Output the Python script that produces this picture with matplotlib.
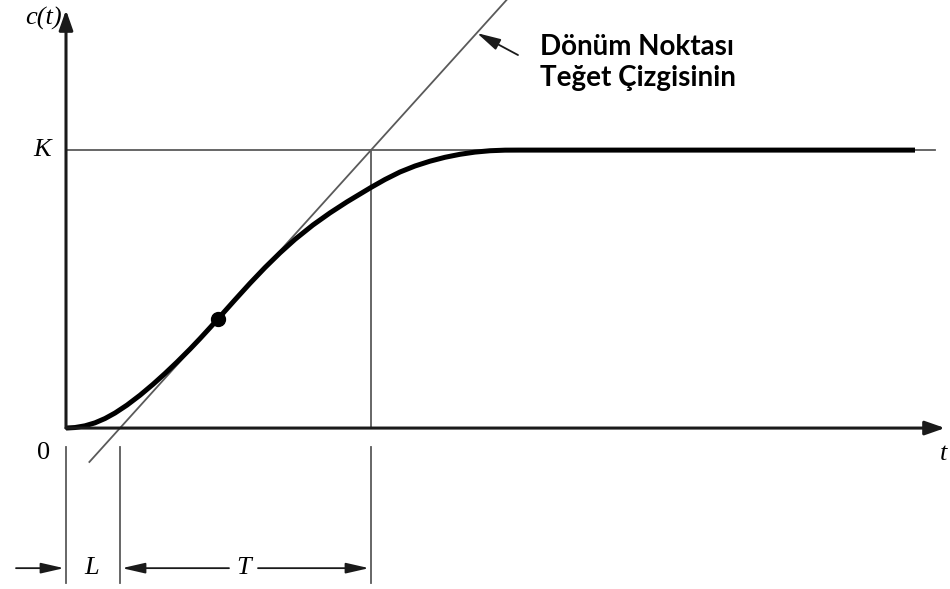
import matplotlib
matplotlib.use('Agg')
from matplotlib import pyplot as plt

# step response c(t), normalised so that the final value K = 1
K = 1.0
L = 0.54          # dead time
T = 2.51          # time constant
t_curve = [0, 0.09, 0.19, 0.29, 0.39, 0.49, 0.61, 0.74, 0.87, 0.99, 1.11, 1.24,
           1.34, 1.44, 1.52, 1.69, 1.84, 1.99, 2.14, 2.29, 2.47, 2.64, 2.81, 3.05,
           3.19, 3.34, 3.49, 3.64, 3.79, 3.94, 4.09, 4.24, 4.39, 4.54, 8.49]
c_curve = [0, 0.0019, 0.0081, 0.0188, 0.0343, 0.0541, 0.0826, 0.1181, 0.1574,
           0.1963, 0.2373, 0.2840, 0.3218, 0.3610, 0.3929, 0.4614, 0.5208, 0.5774,
           0.6303, 0.6789, 0.7307, 0.7741, 0.8138, 0.8657, 0.8942, 0.9212, 0.9428,
           0.9601, 0.9741, 0.9849, 0.9928, 0.9977, 0.9998, 1.0, 1.0]
t_inflect = 1.52
c_inflect = 0.393

annot_lines = ['Dönüm Noktası', 'Teğet Çizgisinin']
serif = 'Liberation Serif'

fig = plt.figure(figsize=(9.5, 5.89), dpi=100)
ax = fig.add_axes([0, 0, 1, 1])
ax.set_xlim(-0.66, 8.84)
ax.set_ylim(-0.579, 1.54)
ax.axis('off')

axis_col = '#1a1a1a'
thin_col = '#5a5a5a'


def arrow(ax, start, tip, lw, col, scale=12, hl=1.0, hw=0.35):
    ax.annotate('', xy=tip, xytext=start,
                arrowprops=dict(arrowstyle='-|>,head_length=%s,head_width=%s' % (hl, hw),
                                lw=lw, color=col, mutation_scale=scale,
                                shrinkA=0, shrinkB=0))


# axes with arrow heads
arrow(ax, (0, 0), (0, 1.504), 2.2, axis_col)
arrow(ax, (0, 0), (8.79, 0), 2.2, axis_col)

# final value line and the L+T marker
ax.plot([0, 8.69], [K, K], color=thin_col, lw=1.3)
ax.plot([L + T, L + T], [K, 0], color=thin_col, lw=1.3)

# tangent through the inflection point
c_tan = [-0.122, 1.54]
ax.plot([L + c * T for c in c_tan], c_tan, color=thin_col, lw=1.3)

# response curve and inflection point
ax.plot(t_curve, c_curve, color='black', lw=3.6, solid_capstyle='butt',
        solid_joinstyle='round')
ax.plot([t_inflect], [c_inflect], 'o', color='black', markersize=10)

# dimension lines below the axis
y_lo, y_hi = -0.558, -0.068
for xv in [0, L, L + T]:
    ax.plot([xv, xv], [y_lo, y_hi], color=thin_col, lw=1.3)

y_dim = -0.504
arrow(ax, (-0.50, y_dim), (-0.02, y_dim), 1.3, axis_col, scale=10, hl=1.4, hw=0.32)
arrow(ax, (1.63, y_dim), (L + 0.02, y_dim), 1.3, axis_col, scale=10, hl=1.4, hw=0.32)
arrow(ax, (1.92, y_dim), (L + T - 0.02, y_dim), 1.3, axis_col, scale=10, hl=1.4, hw=0.32)
ax.text(0.26, y_dim, 'L', family=serif, style='italic', fontsize=19,
        ha='center', va='center')
ax.text(1.78, y_dim, 'T', family=serif, style='italic', fontsize=19,
        ha='center', va='center')

# axis labels
ax.text(-0.22, -0.09, '0', family=serif, fontsize=19, ha='center', va='center')
ax.text(-0.24, K, 'K', family=serif, style='italic', fontsize=19, ha='center', va='center')
ax.text(-0.22, 1.475, 'c(t)', family=serif, style='italic', fontsize=19,
        ha='center', va='center')
ax.text(8.74, -0.095, 't', family=serif, style='italic', fontsize=19,
        ha='left', va='center')

# pointer to the tangent line
arrow(ax, (4.52, 1.342), (4.11, 1.421), 1.3, axis_col, scale=12, hl=1.2, hw=0.3)
for i, line in enumerate(annot_lines):
    ax.text(4.74, 1.371 - i * 0.112, line, fontsize=20, fontweight='bold',
            family='Lato', ha='left', va='center')

fig.savefig('out.png', dpi=100)
